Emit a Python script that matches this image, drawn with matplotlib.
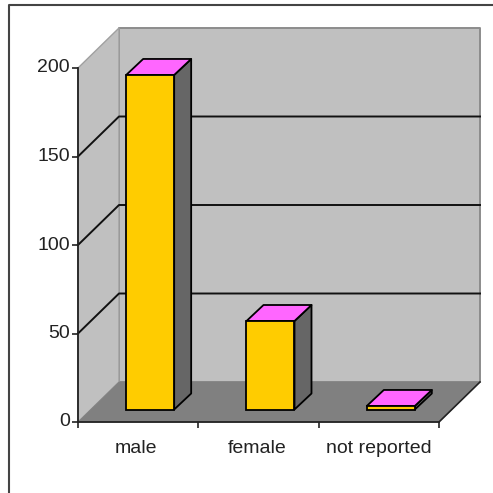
import matplotlib
matplotlib.use("Agg")
import matplotlib.pyplot as plt
from matplotlib.lines import Line2D
from matplotlib.patches import Polygon

plt.rcParams['font.family'] = ['Liberation Sans', 'DejaVu Sans']

categories = ["male", "female", "not reported"]
values = [189, 50, 2]
y_ticks = [0, 50, 100, 150, 200]

W = 493.0
# front plane of the 3d box, in pixels
left, right, bottom, top = 78.0, 439.0, 422.0, 68.0

fig = plt.figure(figsize=(4.93, 4.93), dpi=100)
ax = fig.add_axes([left / W, 1 - bottom / W, (right - left) / W, (bottom - top) / W])
ax.set_xlim(0, 3)
ax.set_ylim(0, 200)
ax.patch.set_visible(False)

px = 3 / (right - left)
py = 200 / (bottom - top)
dx, dy = 41 * px, 40 * py        # depth of the box
bar_w = 48 * px
off_x, off_y = 12 * px, 12.5 * py  # where bars sit on the floor
bd_x, bd_y = 17 * px, 16 * py    # depth of a bar


def poly(pts, fc, ec="none", lw=1.0, z=1):
    ax.add_patch(Polygon(pts, closed=True, facecolor=fc, edgecolor=ec, linewidth=lw,
                         zorder=z, clip_on=False, joinstyle="round"))


# walls and floor
poly([(dx, dy), (3 + dx, dy), (3 + dx, 200 + dy), (dx, 200 + dy)], "#c0c0c0", "#8c8c8c", 1.4)
poly([(0, 0), (0, 200), (dx, 200 + dy), (dx, dy)], "#c0c0c0", "#a0a0a0", 1.0)
poly([(0, 0), (3, 0), (3 + dx, dy), (dx, dy)], "#808080", "#808080", 0.5, z=1.5)
ax.plot([3, 3 + dx], [0, dy], color="#222222", lw=1.2, zorder=2, clip_on=False)

# gridlines, round the corner of the box
for t in y_ticks[1:-1]:
    ax.plot([0, dx, 3 + dx], [t, t + dy, t + dy], color="#111111", lw=1.4, zorder=2, clip_on=False)

# bars
for i, v in enumerate(values):
    x0 = i + 0.5 + off_x - bar_w / 2
    x1 = x0 + bar_w
    ax.bar(x0, v, width=bar_w, bottom=off_y, align="edge", color="#ffcc00", edgecolor="black",
           linewidth=1.3, zorder=4)
    poly([(x1, off_y), (x1 + bd_x, off_y + bd_y), (x1 + bd_x, off_y + v + bd_y), (x1, off_y + v)],
         "#666666", "black", 1.3, z=3.5)
    poly([(x0, off_y + v), (x1, off_y + v), (x1 + bd_x, off_y + v + bd_y), (x0 + bd_x, off_y + v + bd_y)],
         "#ff66ff", "black", 1.3, z=3.5)

for s in ["top", "right"]:
    ax.spines[s].set_visible(False)
for s in ["left", "bottom"]:
    ax.spines[s].set_linewidth(1.3)
    ax.spines[s].set_color("#222222")
    ax.spines[s].set_zorder(5)

ax.set_yticks(y_ticks)
ax.set_xticks([0, 1, 2, 3])
ax.set_xticklabels([])
ax.set_xticks([0.48, 1.49, 2.5], categories, minor=True)
ax.tick_params(axis="x", which="major", length=4, width=1.2, color="#222222")
ax.tick_params(axis="x", which="minor", length=0, pad=13, labelsize=14, labelcolor="#222222")
ax.tick_params(axis="y", length=4, width=1.2, pad=2, labelsize=14, labelcolor="#222222", color="#222222")
for lab in ax.get_yticklabels():
    lab.set_verticalalignment("center")
    lab.set_y(lab.get_position()[1])

# image border, only the top and left edges show
fig.add_artist(Line2D([9 / W, 9 / W, 1], [0, 1 - 5 / W, 1 - 5 / W], transform=fig.transFigure,
                      color="#444444", lw=1.5))

plt.savefig("out.png", dpi=100)
